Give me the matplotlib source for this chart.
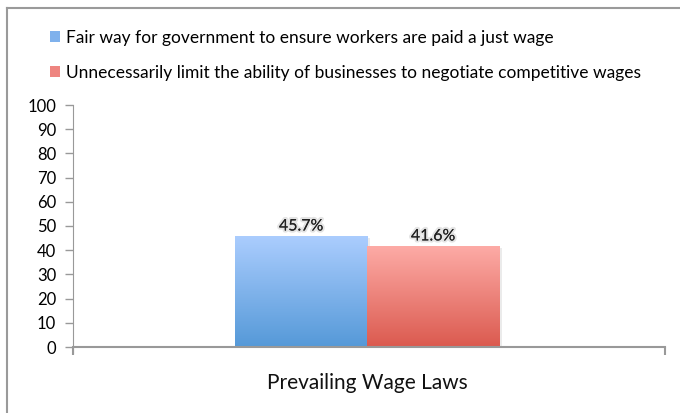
import numpy as np
import matplotlib.pyplot as plt
import matplotlib.patheffects as pe
from matplotlib.lines import Line2D
from matplotlib.patches import Patch
from matplotlib import rcParams

rcParams['font.family'] = ['Lato', 'DejaVu Sans']

category = "Prevailing Wage Laws"
series = ["Fair way for government to ensure workers are paid a just wage",
          "Unnecessarily limit the ability of businesses to negotiate competitive wages"]
values = [45.7, 41.6]
labels = ["45.7%", "41.6%"]
top_colors = ["#abcdfe", "#fdaba6"]
bottom_colors = ["#5599d8", "#db5a4f"]
legend_colors = ["#7fb1ec", "#ee8580"]

fig = plt.figure(figsize=(6.8, 4.13), dpi=100)
ax = fig.add_axes([73 / 680, 1 - 347 / 413, (665 - 73) / 680, (347 - 105) / 413])

width = 0.223
xs = [-width / 2, width / 2]
for x, v, tc, bc, lab in zip(xs, values, top_colors, bottom_colors, labels):
    # soft shadow
    ax.bar(x + 0.004, v, width, bottom=-0.6, color="#000000", alpha=0.08, zorder=1)
    bar = ax.bar(x, v, width, color="none", zorder=2)[0]
    t = np.linspace(0, 1, 256).reshape(-1, 1)
    c0 = np.array(plt.matplotlib.colors.to_rgb(tc))
    c1 = np.array(plt.matplotlib.colors.to_rgb(bc))
    grad = (c0 * (1 - t) + c1 * t).reshape(256, 1, 3)
    im = ax.imshow(grad, extent=[x - width / 2, x + width / 2, 0, v],
                   aspect="auto", zorder=2, origin="upper")
    im.set_clip_path(bar)
    ax.text(x, v + 1.2, lab, ha="center", va="bottom", fontsize=11.5, color="#222222",
            zorder=4, path_effects=[pe.withStroke(linewidth=3, foreground="#e4e4e4"), pe.Normal()])

ax.set_xlim(-0.497, 0.503)
ax.set_ylim(0, 100)
ax.set_yticks(range(0, 101, 10))
ax.set_xticks([-0.497, 0.503])
ax.set_xticklabels(["", ""])
ax.tick_params(axis="y", length=6, color="#999999", width=1, labelsize=12, pad=6)
ax.tick_params(axis="x", length=6, color="#999999", width=1.5)
for s in ["top", "right"]:
    ax.spines[s].set_visible(False)
ax.spines["left"].set_color("#999999")
ax.spines["bottom"].set_color("#999999")
ax.spines["bottom"].set_linewidth(1.5)
ax.spines["left"].set_bounds(-2.5, 100)
fig.text(367 / 680, 1 - 383 / 413, category, ha="center", va="center", fontsize=15, color="#111111")

handles = [Patch(facecolor=c, edgecolor="none") for c in legend_colors]
fig.legend(handles, series, loc="upper left", bbox_to_anchor=(50 / 680, 1 - 30 / 413),
           frameon=False, fontsize=12.5, handlelength=0.6, handleheight=0.6,
           handletextpad=0.3, labelspacing=1.1, borderpad=0, borderaxespad=0)

# chart border
fig.add_artist(Line2D([7 / 680, 7 / 680], [0, 1 - 8 / 413], color="#9a9a9a", lw=1.5))
fig.add_artist(Line2D([7 / 680, 1], [1 - 8 / 413, 1 - 8 / 413], color="#9a9a9a", lw=1.5))

fig.savefig("out.png", dpi=100)
